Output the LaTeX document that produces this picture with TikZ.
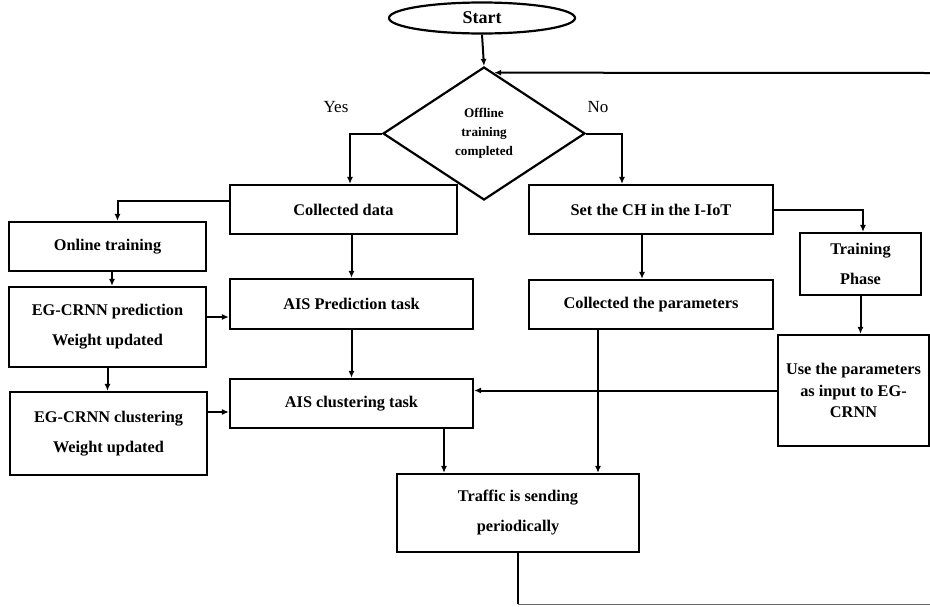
\documentclass[tikz,border=0pt]{standalone}
\usepackage{fontspec}
\setmainfont{Liberation Serif}
\usetikzlibrary{shapes.geometric,arrows.meta,calc}
\begin{document}
\begin{tikzpicture}[x=1pt,y=-1pt,
  box/.style={draw,line width=2.2pt,rectangle,inner sep=0pt,align=center,
    font=\bfseries\fontsize{16.3}{30}\selectfont},
  arr/.style={line width=2pt,-{Latex[length=7pt,width=6pt]}},
  ln/.style={line width=2pt},
  lbl/.style={font=\fontsize{17}{20}\selectfont,inner sep=0pt}]
\useasboundingbox (0,0) rectangle (930,606);
\fill[white] (0,0) rectangle (930,606);

\node[draw,ellipse,line width=2.2pt,minimum width=186pt,minimum height=31pt,inner sep=0pt,
  font=\bfseries\fontsize{18}{20}\selectfont] (start) at (482,18) {Start};
\node[draw,diamond,line width=2.2pt,minimum width=202pt,minimum height=133pt,inner sep=0pt,
  align=center,font=\bfseries\fontsize{13.2}{19}\selectfont] (dec) at (484,133.5)
  {Offline\\training\\completed};

\node[box,minimum width=227pt,minimum height=49pt] (cd) at (343.5,209.5) {Collected data};
\node[box,minimum width=197pt,minimum height=49pt] (ot) at (107.5,246.5) {Online training};
\node[box,minimum width=197pt,minimum height=80pt] (egp) at (107.5,327) {EG-CRNN prediction\\Weight updated};
\node[box,minimum width=243pt,minimum height=50pt] (aisp) at (351.5,304) {AIS Prediction task};
\node[box,minimum width=197pt,minimum height=83pt] (egc) at (108.5,433.5) {EG-CRNN clustering\\Weight updated};
\node[box,minimum width=243pt,minimum height=49pt] (aisc) at (351.5,403.5) {AIS clustering task};
\node[box,minimum width=244pt,minimum height=49pt] (ch) at (651,209.5) {Set the CH in the I-IoT};
\node[box,minimum width=244pt,minimum height=49pt] (cp) at (651,304.5) {Collected the parameters};
\node[box,minimum width=121pt,minimum height=62pt] (tp) at (860.5,264) {Training\\Phase};
\node[box,minimum width=151pt,minimum height=111pt,font=\bfseries\fontsize{16.3}{21.5}\selectfont] (up) at (853.5,390.5) {Use the parameters\\as input to EG-\\CRNN};
\node[box,minimum width=242pt,minimum height=78pt] (tr) at (518,513) {Traffic is sending\\periodically};

\node[lbl] (yes) at (336,107) {Yes};
\node[lbl] (no) at (598,107) {No};

\coordinate (fbR) at (930,73);
\coordinate (loopB) at (518,604);
\coordinate (loopR) at (930,604);

\draw[arr] (start.south) -- (dec.north);
\draw[arr] (fbR) -- ($(dec.north)!0.1!(dec.east)$);
\draw[arr] (dec.west) -| ([xshift=6.5pt]cd.north);
\draw[arr] (dec.east) -| ([xshift=-29pt]ch.north);

\draw[arr] ([yshift=8.5pt]cd.west) -| ([xshift=10pt]ot.north);
\draw[arr] ([xshift=4.5pt]ot.south) -- ([xshift=4.5pt]egp.north);
\draw[arr] (cd.south -| aisp.north) -- (aisp.north);
\draw[arr] ([yshift=10pt]egp.east) -- ([yshift=10pt]egp.east -| aisp.west);
\draw[arr] (egp.south) -- (egp.south |- egc.north);
\draw[arr] (aisp.south) -- (aisc.north);
\draw[arr] ([yshift=21.5pt]egc.east) -- ([yshift=21.5pt]egc.east -| aisc.west);
\draw[arr] ([xshift=92.5pt]aisc.south) -- ([xshift=92.5pt]aisc.south |- tr.north);

\draw[arr] ([xshift=-9pt]ch.south) -- ([xshift=-9pt]cp.north);
\draw[arr] (ch.east) -| ([xshift=2.5pt]tp.north);
\draw[arr] (tp.south) -- (tp.south |- up.north);
\draw[arr] (up.west) -- (up.west -| aisc.east);
\draw[arr] ([xshift=-53pt]cp.south) -- ([xshift=-53pt]cp.south |- tr.north);

\draw[ln] (tr.south) -- (loopB);
\draw[line width=1pt,black!60] (loopB) -- (loopR);
\end{tikzpicture}
\end{document}
